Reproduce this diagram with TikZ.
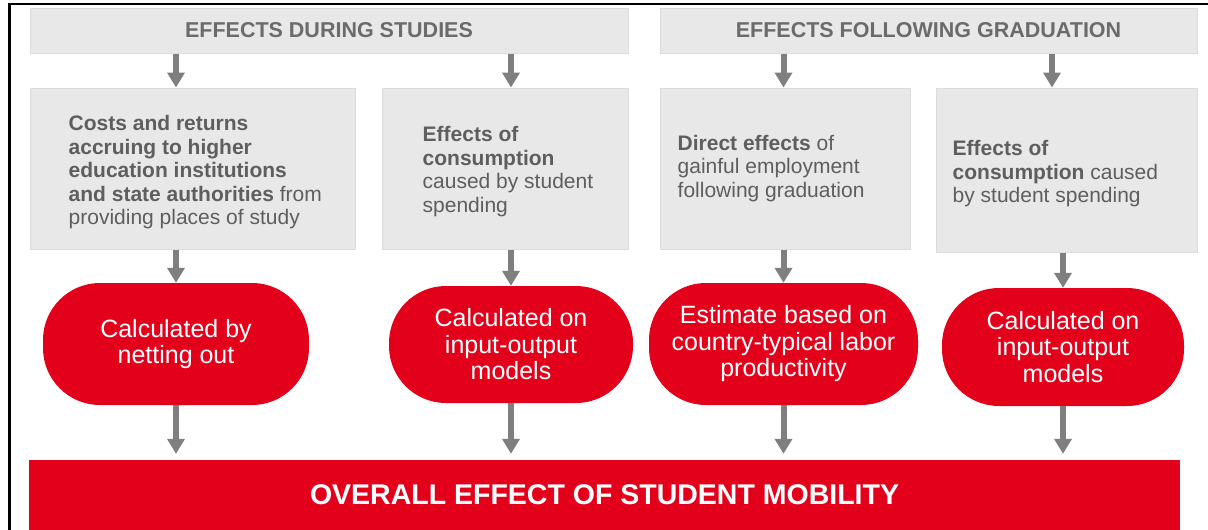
\documentclass[tikz,border=0pt]{standalone}
\usepackage{fontspec}
\setmainfont{Liberation Sans}
\usepackage{xcolor}
\usetikzlibrary{arrows.meta}

\definecolor{boxgray}{HTML}{E8E8E8}
\definecolor{boxline}{HTML}{DCDCDC}
\definecolor{txtgray}{HTML}{5E5E5E}
\definecolor{hdgray}{HTML}{6B6B6B}
\definecolor{mobred}{HTML}{E2001A}
\definecolor{arrgray}{HTML}{7F7F7F}

\tikzset{
  graybox/.style={draw=boxline, fill=boxgray, line width=1pt, inner sep=0pt},
  headbox/.style={graybox, text=hdgray, font=\fontsize{21.5}{24}\selectfont\bfseries},
  boxtext/.style={anchor=west, text=txtgray, align=left, inner sep=0pt,
    font=\fontsize{21}{23.5}\selectfont},
  pill/.style={fill=mobred, text=white, rounded corners=57pt, align=center,
    inner sep=0pt, font=\fontsize{25}{26.5}\selectfont},
  totalbar/.style={fill=mobred, text=white, inner sep=0pt,
    font=\fontsize{28.5}{32}\selectfont\bfseries},
  flow/.style={draw=arrgray, line width=6pt, -{Triangle[width=17pt,length=15pt]}}
}

\begin{document}
\begin{tikzpicture}[x=1pt,y=-1pt]
\useasboundingbox (0,0) rectangle (1208,530);
\draw [black, line width=2.5pt] (9.3,530) -- (9.3,4) -- (1208,4);
% headers
\node [headbox, minimum width=598pt, minimum height=45pt] (hd1) at (329,30.5) {EFFECTS DURING STUDIES};
\node [headbox, minimum width=537pt, minimum height=45pt] (hd2) at (928.5,30.5) {EFFECTS FOLLOWING GRADUATION};
% grey boxes
\node [graybox, minimum width=325pt, minimum height=161pt] (b1) at (192.5,168.5) {};
\node [boxtext] (b1t) at ([xshift=39pt,yshift=-4pt]b1.west) {\textbf{Costs and returns}\\\textbf{accruing to higher}\\\textbf{education institutions}\\\textbf{and state authorities} from\\providing places of study};
\node [graybox, minimum width=246pt, minimum height=161pt] (b2) at (505,168.5) {};
\node [boxtext] (b2t) at ([xshift=41pt,yshift=-3pt]b2.west) {\textbf{Effects of}\\\textbf{consumption}\\caused by student\\spending};
\node [graybox, minimum width=250pt, minimum height=161pt] (b3) at (785,168.5) {};
\node [boxtext] (b3t) at ([xshift=18pt]b3.west) {\textbf{Direct effects} of\\gainful employment\\following graduation};
\node [graybox, minimum width=261pt, minimum height=164pt] (b4) at (1066.5,170) {};
\node [boxtext] (b4t) at ([xshift=17pt,yshift=-4pt]b4.west) {\textbf{Effects of}\\\textbf{consumption} caused\\by student spending};
% red pills
\node [pill, minimum width=266pt, minimum height=122pt] (p1) at (176,344) {Calculated by\\netting out};
\node [pill, minimum width=244pt, minimum height=117pt] (p2) at (511,344.5) {Calculated on\\input-output\\models};
\node [pill, minimum width=269pt, minimum height=122pt] (p3) at (783.5,344) {Estimate based on\\country-typical labor\\productivity};
\node [pill, minimum width=242pt, minimum height=118pt] (p4) at (1063,347) {Calculated on\\input-output\\models};
% bottom bar
\node [totalbar, minimum width=1151pt, minimum height=70pt] (total) at (604.5,495) {OVERALL EFFECT OF STUDENT MOBILITY};
% arrows
\coordinate (a4) at (1052,0);
\draw [flow] (hd1.south -| p1.center) -- (b1.north -| p1.center);
\draw [flow] (hd1.south -| p2.center) -- (b2.north -| p2.center);
\draw [flow] (hd2.south -| p3.center) -- (b3.north -| p3.center);
\draw [flow] (hd2.south -| a4) -- (b4.north -| a4);
\draw [flow] (b1.south -| p1.center) -- (p1.north);
\draw [flow] (b2.south -| p2.center) -- (p2.north);
\draw [flow] (b3.south -| p3.center) -- (p3.north);
\draw [flow] (b4.south -| p4.center) -- (p4.north);
\draw [flow, shorten >=6pt] (p1.south) -- (total.north -| p1.center);
\draw [flow, shorten >=6pt] (p2.south) -- (total.north -| p2.center);
\draw [flow, shorten >=6pt] (p3.south) -- (total.north -| p3.center);
\draw [flow, shorten >=6pt] (p4.south) -- (total.north -| p4.center);
\end{tikzpicture}
\end{document}
